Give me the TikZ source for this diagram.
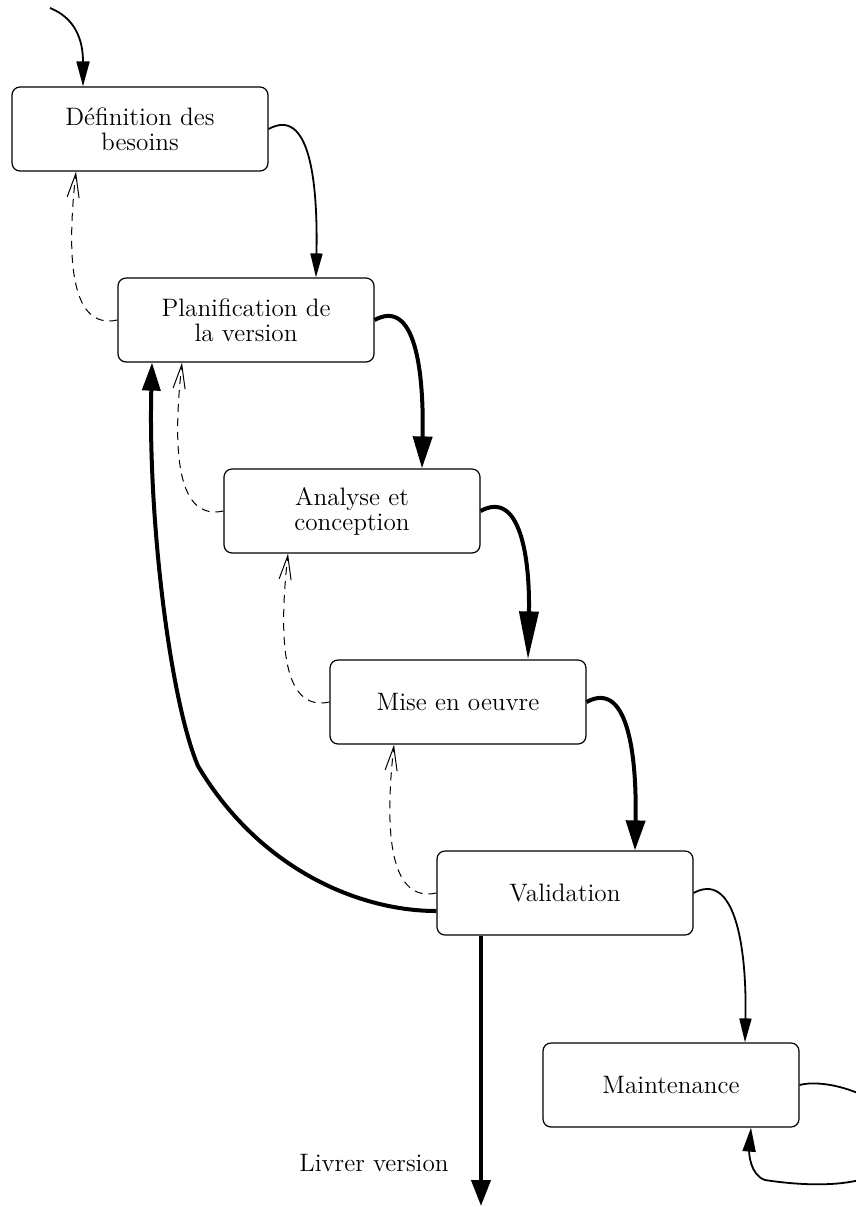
\documentclass[tikz,border=0pt]{standalone}
\usetikzlibrary{arrows.meta,calc}
\begin{document}
\begin{tikzpicture}[x=0.5pt,y=-0.5pt,
  box/.style={draw,line width=0.6pt,rounded corners=4pt,minimum width=128pt,minimum height=42pt,align=center,inner sep=0pt,font=\fontsize{12.6}{12.5}\selectfont},
  lbl/.style={font=\fontsize{12.6}{12.5}\selectfont,inner sep=0pt},
  fthin/.style={line width=0.9pt},
  fthick/.style={line width=2pt},
  fdash/.style={line width=0.5pt,dash pattern=on 4pt off 3pt,-{Straight Barb[length=12pt,width=6pt]}}]
\useasboundingbox (0,0) rectangle (856,1207);
\clip (0,0) rectangle (856,1207);
\node[box] (b1) at (140,129) {Définition des\\besoins};
\node[box] (b2) at (246,320) {Planification de\\la version};
\node[box] (b3) at (352,511) {Analyse et\\conception};
\node[box] (b4) at (458,702) {Mise en oeuvre};
\node[box] (b5) at (565,893) {Validation};
\node[box] (b6) at (671,1085) {Maintenance};
\coordinate (entry) at (50,8);
\coordinate (kink) at (198,766);
\coordinate (livrer) at (481,1206);
\coordinate (loopR) at (900,1140);
\coordinate (loopB) at (765,1180);
\node[lbl] (lv) at (374,1163) {Livrer version};
% entry
\draw[fthin,-{Triangle[length=12.5pt,width=6.5pt]}] (entry) .. controls +(25,10) and +(0,-47) .. ([xshift=-28.5pt]b1.north);
% forward chain
\draw[fthin,-{Triangle[length=12pt,width=6pt]}] (b1.east) .. controls +(40,-22) and +(2,-100) .. ([xshift=35pt]b2.north);
\draw[fthick,-{Triangle[length=16pt,width=9.5pt]}] (b2.east) .. controls +(40,-22) and +(2,-100) .. ([xshift=35pt]b3.north);
\draw[fthick,-{Triangle[length=24pt,width=9.5pt]}] (b3.east) .. controls +(40,-22) and +(2,-100) .. ([xshift=35pt]b4.north);
\draw[fthick,-{Triangle[length=15pt,width=9.5pt]}] (b4.east) .. controls +(40,-22) and +(2,-100) .. ([xshift=35pt]b5.north);
\draw[fthin,-{Triangle[length=12pt,width=6pt]}] (b5.east) .. controls +(40,-22) and +(2,-100) .. ([xshift=37pt]b6.north);
% dashed feedback
\draw[fdash] (b2.west) .. controls +(-46,10) and +(-10,90) .. ([xshift=-32pt]b1.south);
\draw[fdash] (b3.west) .. controls +(-46,10) and +(-10,90) .. ([xshift=-32pt]b2.south);
\draw[fdash] (b4.west) .. controls +(-46,10) and +(-10,90) .. ([xshift=-32pt]b3.south);
\draw[fdash] (b5.west) .. controls +(-46,10) and +(-10,90) .. ([xshift=-32pt]b4.south);
% return to planning
\draw[fthick,-{Triangle[length=14pt,width=9pt]}] ([yshift=-9pt]b5.west) .. controls (360,911) and (260,870) .. (kink) .. controls (170,700) and (148,520) .. ([xshift=-47pt]b2.south);
% deliver
\draw[fthick,-{Triangle[length=13pt,width=9.5pt]}] ([xshift=-42pt]b5.south) -- (livrer);
% maintenance loop
\draw[fthin,-{Triangle[length=12pt,width=6.5pt]}] (b6.east) .. controls +(30,-8) and +(0,-40) .. (loopR) .. controls +(0,45) and +(65,10) .. (loopB) .. controls +(-15,-5) and +(-2,25) .. ([xshift=40pt]b6.south);
\end{tikzpicture}
\end{document}
